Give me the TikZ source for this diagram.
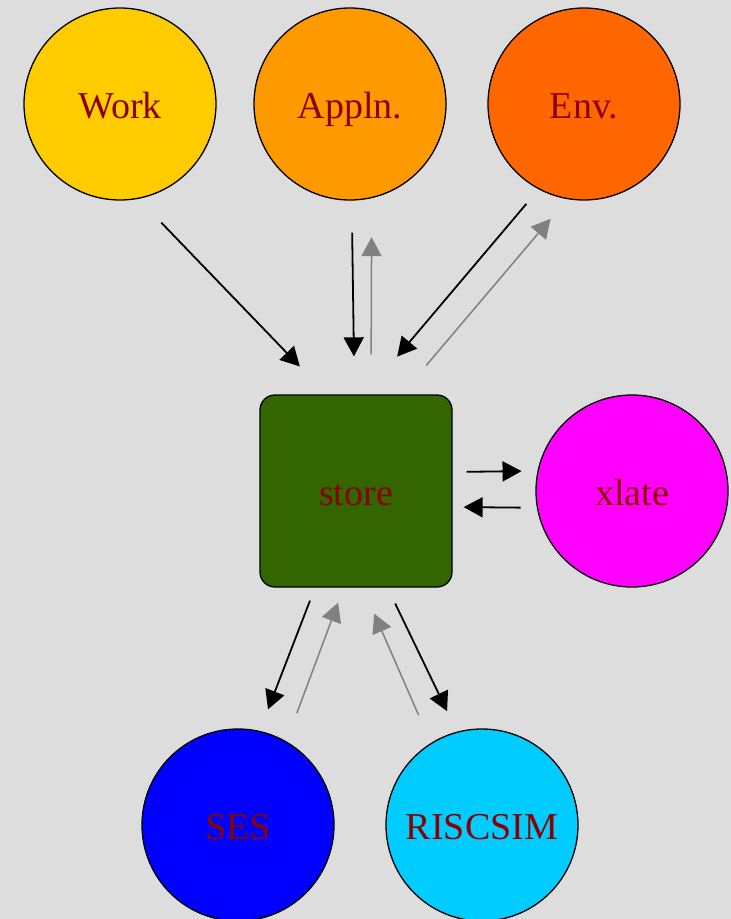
\documentclass[tikz,border=0pt]{standalone}
\usepackage{fontspec}
\setmainfont{Liberation Serif}
\usetikzlibrary{arrows.meta}
\definecolor{bgc}{HTML}{DDDDDD}
\definecolor{lbl}{HTML}{8B0000}
\definecolor{cwork}{HTML}{FFCC00}
\definecolor{cappln}{HTML}{FF9900}
\definecolor{cenv}{HTML}{FF6600}
\definecolor{cstore}{HTML}{336600}
\definecolor{cxlate}{HTML}{FF00FF}
\definecolor{cses}{HTML}{0000FF}
\definecolor{crisc}{HTML}{00CCFF}
\begin{document}
\begin{tikzpicture}[x=1pt, y=-1pt,
  circ/.style={circle, draw=black, line width=1.3pt, minimum size=192pt, inner sep=0pt, text=lbl, text height=29pt, text depth=0pt, font=\fontsize{38}{44}\selectfont},
  box/.style={rectangle, rounded corners=15pt, draw=black, line width=1.3pt, minimum size=192pt, inner sep=0pt, text=lbl, text height=29pt, text depth=0pt, font=\fontsize{38}{44}\selectfont},
  fwd/.style={draw=black, line width=1.8pt, -{Triangle[length=19pt,width=20pt]}},
  back/.style={draw=gray, line width=1.5pt, -{Triangle[length=19pt,width=20pt]}}]
% Sfondo
\fill[bgc] (0,0) rectangle (731,919);
\useasboundingbox (0,0) rectangle (731,919);

% Nodi in alto
\node[circ, fill=cwork] (work) at (120,104) {Work};
\node[circ, fill=cappln] (appln) at (350,104) {Appln.};
\node[circ, fill=cenv] (env) at (584,104) {Env.};

% Nodo centrale e laterale
\node[box, fill=cstore] (store) at (356,491) {store};
\node[circ, fill=cxlate] (xlate) at (632,491) {xlate};

% Nodi in basso
\node[circ, fill=cses] (ses) at (238,825) {SES};
\node[circ, fill=crisc] (riscsim) at (482,825) {RISCSIM};

% Archi verso store (sopra)
\draw[fwd, shorten <=33pt, shorten >=38.7pt] (work.-79) -- ([xshift=-29.3pt]store.north);
\draw[fwd, shorten <=32pt, shorten >=38pt] (appln.-89) -- ([xshift=-1.5pt]store.north);
\draw[back, shorten <=40pt, shorten >=39pt] ([xshift=15pt]store.north) -- (appln.-77.4);
\draw[fwd, shorten <=19pt, shorten >=49.5pt] (env.-118.1) -- ([xshift=9.2pt]store.north);
\draw[back, shorten <=37.8pt, shorten >=25.7pt] ([xshift=45.7pt]store.north) -- (env.-100.1);

% Archi con xlate
\draw[fwd, shorten <=14pt, shorten >=15.9pt] ([yshift=19pt]store.east) -- (xlate.168.6);
\draw[fwd, shorten <=16.3pt, shorten >=11pt] (xlate.-170.4) -- ([yshift=-16pt]store.east);

% Archi in basso
\draw[fwd, shorten <=13.9pt, shorten >=23pt] ([xshift=-41pt]store.south) -- (ses.77.3);
\draw[back, shorten <=30.2pt, shorten >=16pt] (ses.60.9) -- ([xshift=-12.3pt]store.south);
\draw[fwd, shorten <=17.7pt, shorten >=22.8pt] ([xshift=31.5pt]store.south) -- (riscsim.105.4);
\draw[back, shorten <=30.4pt, shorten >=28.3pt] (riscsim.122.3) -- ([xshift=6.9pt]store.south);
\end{tikzpicture}
\end{document}
